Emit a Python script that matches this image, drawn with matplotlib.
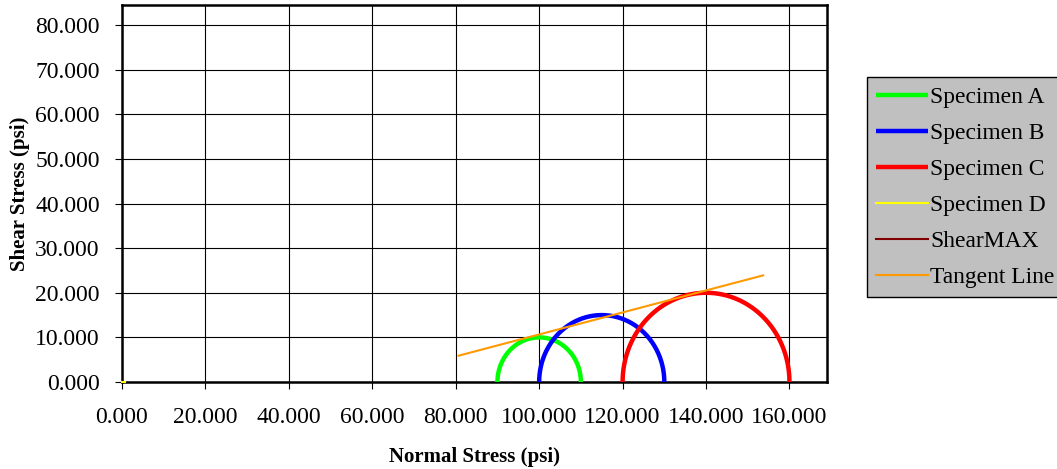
import numpy as np
import matplotlib
matplotlib.use("Agg")
import matplotlib.pyplot as plt
from matplotlib.ticker import FuncFormatter, MultipleLocator

plt.rcParams['font.family'] = ['Liberation Serif', 'DejaVu Serif']

# Mohr circles
specimen_names = ["Specimen A", "Specimen B", "Specimen C"]
centers = [100.0, 115.0, 140.0]
radii = [10.0, 15.0, 20.0]
circle_colors = ["#00ff00", "#0000ff", "#ff0000"]

specimen_d_x = [0.0, 0.6]
specimen_d_y = [0.0, 0.0]

shearmax_x = []
shearmax_y = []

tangent_x = [80.7, 153.7]
tangent_y = [5.9, 23.9]

fig = plt.figure(figsize=(10.57, 4.69), dpi=100)
ax = fig.add_axes([122/1057, 1-382/469, (827-122)/1057, (382-5)/469])

theta = np.linspace(0, np.pi, 300)
handles = []
for name, c, r, col in zip(specimen_names, centers, radii, circle_colors):
    h, = ax.plot(c + r*np.cos(theta), r*np.sin(theta), color=col, lw=3.2,
                 solid_capstyle='butt', label=name, zorder=3)
    handles.append(h)
h, = ax.plot(specimen_d_x, specimen_d_y, color="#ffff00", lw=1.5, label="Specimen D",
             zorder=5, clip_on=False)
handles.append(h)
h, = ax.plot(shearmax_x, shearmax_y, color="#800000", lw=1.5, label="ShearMAX")
handles.append(h)
h, = ax.plot(tangent_x, tangent_y, color="#ff9900", lw=1.5, label="Tangent Line", zorder=4)
handles.append(h)

ax.set_xlim(0, 169)
ax.set_ylim(0, 84.5)
ax.xaxis.set_major_locator(MultipleLocator(20))
ax.yaxis.set_major_locator(MultipleLocator(10))
fmt = FuncFormatter(lambda v, p: f"{v:.3f}")
ax.xaxis.set_major_formatter(fmt)
ax.yaxis.set_major_formatter(fmt)
ax.grid(True, color="black", lw=0.8)
ax.set_axisbelow(True)
for s in ax.spines.values():
    s.set_linewidth(1.8)
    s.set_color("black")
ax.tick_params(direction='out', length=5, width=0.8, labelsize=17)
ax.tick_params(axis='y', pad=11)
ax.tick_params(axis='x', pad=13)

ax.set_xlabel("Normal Stress (psi)", fontsize=15, fontweight='bold', labelpad=14)
ax.set_ylabel("Shear Stress (psi)", fontsize=15, fontweight='bold', labelpad=4)

leg = fig.legend(handles=handles, loc='upper left',
                 bbox_to_anchor=(867/1057, 1-77/469), fontsize=16.9,
                 frameon=True, fancybox=False, edgecolor='black',
                 facecolor='#c0c0c0', framealpha=1, handlelength=2.2,
                 handletextpad=0.1, labelspacing=0.62, borderpad=0.4,
                 borderaxespad=0)
leg.get_frame().set_linewidth(1.0)

fig.savefig("out.png", dpi=100)
